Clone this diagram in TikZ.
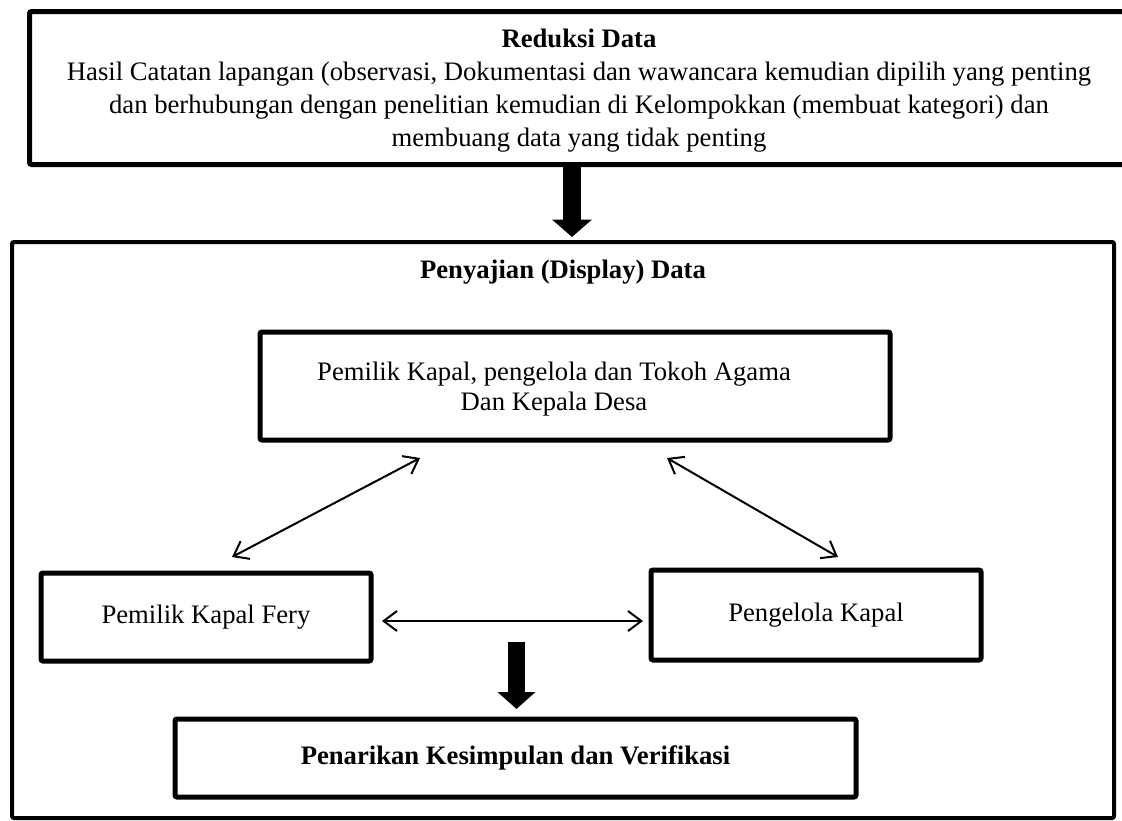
\documentclass[tikz,border=0pt]{standalone}
\usepackage{fontspec}
\setmainfont{Liberation Serif}
\usetikzlibrary{arrows.meta}

\tikzset{every picture/.style={line width=0.75pt}}
\tikzset{
  kotak/.style={draw, line width=3.75pt, rounded corners=1.5pt, inner sep=0pt, align=center},
  teks/.style={inner sep=0pt, align=center},
  panah/.style={line width=1.5pt, {Straight Barb[length=10pt,width=15pt]}-{Straight Barb[length=10pt,width=15pt]}},
  panahtebal/.style={line width=13pt, -{Triangle[length=13pt,width=29pt]}},
}

\begin{document}
\begin{tikzpicture}[x=0.75pt,y=0.75pt,yscale=-1,xscale=1,font=\fontsize{20}{24.75}\selectfont]
\useasboundingbox (0,0) rectangle (1122,821);

%Shape: Rectangle (reduksi data)
\node [kotak, minimum width=900pt, minimum height=114.75pt] (reduksi) at (629.5,88) {};
% Text Node
\node [teks] (reduksiteks) at (579,91) {\textbf{Reduksi Data}\\Hasil Catatan lapangan (observasi, Dokumentasi dan wawancara kemudian dipilih yang penting\\dan berhubungan dengan penelitian kemudian di Kelompokkan (membuat kategori) dan\\membuang data yang tidak penting};
%Shape: Rectangle (penyajian data)
\node [kotak, line width=3pt, minimum width=826.5pt, minimum height=432pt] (penyajian) at (563,530) {};
% Text Node
\node [teks] (judul) at (563,272) {\textbf{Penyajian (Display) Data}};
%Shape: Rectangle
\node [kotak, minimum width=472.5pt, minimum height=81pt] (tengah) at (575,386) {};
% Text Node
\node [teks, font=\fontsize{20}{22.5}\selectfont] (tengahteks) at (554,389) {Pemilik Kapal, pengelola dan Tokoh Agama\\Dan Kepala Desa};
%Shape: Rectangle
\node [kotak, minimum width=247.5pt, minimum height=66pt] (fery) at (206,617) {\raisebox{-3.75pt}{Pemilik Kapal Fery}};
%Shape: Rectangle
\node [kotak, minimum width=247.5pt, minimum height=67.5pt] (pengelola) at (816,615) {\raisebox{-1.5pt}{Pengelola Kapal}};
%Shape: Rectangle
\node [kotak, minimum width=510.75pt, minimum height=58.5pt] (kesimpulan) at (515.5,758) {\raisebox{-2.25pt}{\textbf{Penarikan Kesimpulan dan Verifikasi}}};

%Block Arrows
\coordinate (a1) at (572,167);
\coordinate (a2) at (572,237);
\draw [panahtebal] (a1) -- (a2);
\coordinate (b1) at (516.5,642);
\coordinate (b2) at (516.5,709);
\draw [panahtebal, line width=12.75pt, -{Triangle[length=12.75pt,width=27.75pt]}] (b1) -- (b2);

%Straight Lines
\coordinate (c1) at (420,458);
\coordinate (c2) at (232,557);
\draw [panah] (c1) -- (c2);
\coordinate (d1) at (667,458);
\coordinate (d2) at (838,557);
\draw [panah] (d1) -- (d2);
\coordinate (e1) at (382,621);
\coordinate (e2) at (643,621);
\draw [panah] (e1) -- (e2);

\end{tikzpicture}
\end{document}
